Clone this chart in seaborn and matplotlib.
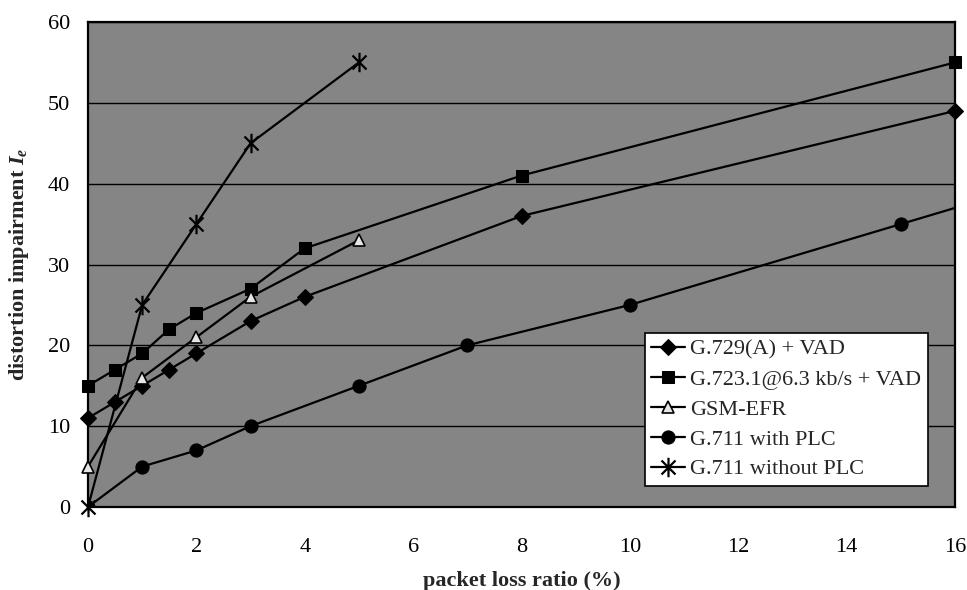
import matplotlib
matplotlib.use("Agg")
import matplotlib.pyplot as plt
from matplotlib.ticker import MultipleLocator
from matplotlib.path import Path
import seaborn as sns

# ---- data ----
g729_x = [0, 0.5, 1, 1.5, 2, 3, 4, 8, 16]
g729_y = [11, 13, 15, 17, 19, 23, 26, 36, 49]

g723_x = [0, 0.5, 1, 1.5, 2, 3, 4, 8, 16]
g723_y = [15, 17, 19, 22, 24, 27, 32, 41, 55]

gsm_x = [0, 1, 2, 3, 5]
gsm_y = [5, 16, 21, 26, 33]

g711plc_x = [0, 1, 2, 3, 5, 7, 10, 15, 20]
g711plc_y = [0, 5, 7, 10, 15, 20, 25, 35, 45]

g711noplc_x = [0, 1, 2, 3, 5]
g711noplc_y = [0, 25, 35, 45, 55]

labels = ["G.729(A) + VAD", "G.723.1@6.3 kb/s + VAD", "GSM-EFR",
          "G.711 with PLC", "G.711 without PLC"]
x_ticks = [0, 2, 4, 6, 8, 10, 12, 14, 16]
y_ticks = [0, 10, 20, 30, 40, 50, 60]

sns.set_style("white")
plt.rcParams["font.family"] = ["Liberation Serif", "DejaVu Serif"]
plt.rcParams["mathtext.fontset"] = "custom"
plt.rcParams["mathtext.rm"] = "Liberation Serif:bold"
plt.rcParams["mathtext.it"] = "Liberation Serif:italic:bold"
plt.rcParams["mathtext.bf"] = "Liberation Serif:bold"

# Excel-style "star" marker: an X with a vertical bar
d = 0.72
star = Path([(0, -1), (0, 1), (-d, -d), (d, d), (-d, d), (d, -d)],
            [Path.MOVETO, Path.LINETO, Path.MOVETO, Path.LINETO,
             Path.MOVETO, Path.LINETO])

fig = plt.figure(figsize=(9.67, 5.90), dpi=100)
ax = fig.add_axes([88 / 967, 83 / 590, 867 / 967, 485 / 590])
ax.set_facecolor("#858585")

common = dict(color="black", linewidth=1.6, estimator=None, sort=False, ax=ax)

sns.lineplot(x=g729_x, y=g729_y, marker="D", markersize=8,
             markerfacecolor="black", markeredgecolor="black",
             label=labels[0], clip_on=False, zorder=5, **common)
sns.lineplot(x=g723_x, y=g723_y, marker="s", markersize=9,
             markerfacecolor="black", markeredgecolor="black",
             label=labels[1], clip_on=False, zorder=5, **common)
sns.lineplot(x=gsm_x, y=gsm_y, marker="^", markersize=9,
             markerfacecolor="#e6e6e6", markeredgecolor="black",
             markeredgewidth=1.2,
             label=labels[2], clip_on=False, zorder=6, **common)
sns.lineplot(x=g711plc_x, y=g711plc_y, marker="o", markersize=9.5,
             markerfacecolor="black", markeredgecolor="black",
             label=labels[3], clip_on=True, zorder=5, **common)
sns.lineplot(x=g711noplc_x, y=g711noplc_y, marker=star, markersize=14,
             markeredgewidth=1.6, markeredgecolor="black",
             label=labels[4], clip_on=False, zorder=5, **common)

ax.set_xlim(0, 16)
ax.set_ylim(0, 60)
ax.set_xticks(x_ticks)
ax.set_yticks(y_ticks)
ax.xaxis.set_minor_locator(MultipleLocator(1))
ax.yaxis.set_minor_locator(MultipleLocator(2))

ax.grid(axis="y", which="major", color="black", linewidth=1.0)
ax.grid(axis="x", visible=False)
ax.set_axisbelow(True)

for s in ax.spines.values():
    s.set_color("black")
    s.set_linewidth(1.6)
    s.set_visible(True)

ax.tick_params(axis="both", which="both", direction="inout", color="black",
               width=1.5, labelsize=16, labelcolor="black")
ax.tick_params(axis="x", which="both", length=9, pad=18)
ax.tick_params(axis="y", which="both", length=7, pad=9)
ax.tick_params(axis="y", which="major", length=8)

ax.set_xlabel("packet loss ratio (%)", fontsize=16, fontweight="bold", labelpad=10)
ax.set_ylabel(r"distortion impairment $I_e$", fontsize=16, fontweight="bold",
              labelpad=12)

leg = ax.legend(loc="lower left", bbox_to_anchor=(0.642, 0.043),
                borderaxespad=0, frameon=True, fancybox=False, shadow=False,
                fontsize=16, handlelength=1.5, handletextpad=0.25,
                labelspacing=0.42, borderpad=0.3)
leg.get_frame().set_edgecolor("black")
leg.get_frame().set_linewidth(1.2)
leg.get_frame().set_facecolor("white")
leg.get_frame().set_alpha(1)
leg.set_zorder(10)

fig.savefig("out.png", dpi=100)
